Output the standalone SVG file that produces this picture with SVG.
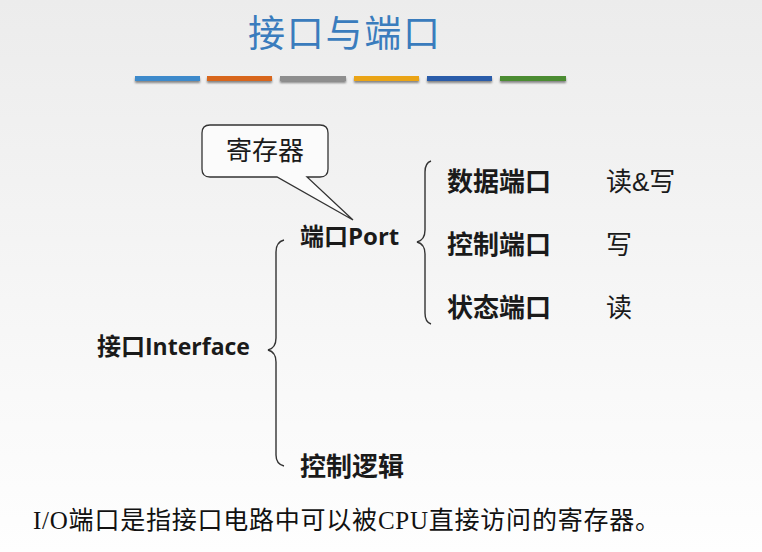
<svg xmlns="http://www.w3.org/2000/svg" width="762" height="552" viewBox="0 0 762 552">
<defs>
<linearGradient id="bg" x1="0" y1="0" x2="0" y2="1">
<stop offset="0" stop-color="#ececec"/>
<stop offset="0.6" stop-color="#f7f7f7"/>
<stop offset="1" stop-color="#fefefe"/>
</linearGradient>
<filter id="sh" x="-10%" y="-50%" width="120%" height="250%">
<feGaussianBlur in="SourceAlpha" stdDeviation="1.2"/>
<feOffset dx="0" dy="2" result="b"/>
<feComponentTransfer><feFuncA type="linear" slope="0.45"/></feComponentTransfer>
<feMerge><feMergeNode/><feMergeNode in="SourceGraphic"/></feMerge>
</filter>
</defs>
<style>
.cjk{font-family:"Noto Sans CJK SC",sans-serif;fill:#1a1a1a}
.b{font-weight:bold}
.lat{font-family:"Open Sans","Noto Sans CJK SC",sans-serif;font-weight:bold}
.brace{fill:none;stroke:#333;stroke-width:1.4}
</style>
<rect width="762" height="552" fill="url(#bg)"/>
<g id="title">
<text x="344" y="47" text-anchor="middle" font-family="Noto Sans CJK SC, sans-serif" font-size="37" fill="#3a7cbd" textLength="192">接口与端口</text>
<g filter="url(#sh)">
<rect x="135" y="76" width="65" height="5" fill="#3d8acb"/>
<rect x="207" y="76" width="65" height="5" fill="#d8661c"/>
<rect x="280" y="76" width="66" height="5" fill="#8e8e8e"/>
<rect x="354" y="76" width="65" height="5" fill="#eaa416"/>
<rect x="427" y="76" width="65" height="5" fill="#2b5ca9"/>
<rect x="500" y="76" width="66" height="5" fill="#4b8c30"/>
</g>
</g>
<g id="callout">
<path d="M210,125 H320 Q328,125 328,133 V169 Q328,177 320,177 H307 L353,220 L277,177 H210 Q202,177 202,169 V133 Q202,125 210,125 Z" fill="#fbfbfb" stroke="#333" stroke-width="1.3"/>
<text x="265" y="160" text-anchor="middle" class="cjk" font-size="26">寄存器</text>
</g>
<g id="interface">
<text x="97" y="355" class="cjk b" font-size="24">接口<tspan class="lat" font-size="23">Interface</tspan></text>
</g>
<g id="port">
<text x="300" y="245" class="cjk b" font-size="24">端口<tspan class="lat" font-size="24">Port</tspan></text>
</g>
<g id="logic">
<text x="300" y="476" class="cjk b" font-size="26">控制逻辑</text>
</g>
<g id="data-port">
<text x="447" y="191" class="cjk b" font-size="26">数据端口</text>
<text x="606" y="191" class="cjk" font-size="26">读<tspan font-family="Liberation Sans, sans-serif">&amp;</tspan>写</text>
</g>
<g id="ctrl-port">
<text x="447" y="254" class="cjk b" font-size="26">控制端口</text>
<text x="606" y="254" class="cjk" font-size="26">写</text>
</g>
<g id="status-port">
<text x="447" y="317" class="cjk b" font-size="26">状态端口</text>
<text x="606" y="317" class="cjk" font-size="26">读</text>
</g>
<g id="connectors">
<path class="brace" d="M284,240 Q276,242 276,252 V338 Q276,348 268,350 Q276,352 276,362 V455 Q276,464 284,466"/>
<path class="brace" d="M431,161 Q425,163 425,172 V230 Q425,240 417,242 Q425,244 425,254 V313 Q425,322 431,324"/>
</g>
<g id="note">
<text x="33" y="529" font-family="Liberation Serif, Noto Sans CJK SC, serif" font-size="25" fill="#111" textLength="627">I/O<tspan font-family="Noto Sans CJK SC, serif">端口是指接口电路中可以被</tspan>CPU<tspan font-family="Noto Sans CJK SC, serif">直接访问的寄存器。</tspan></text>
</g>
</svg>
